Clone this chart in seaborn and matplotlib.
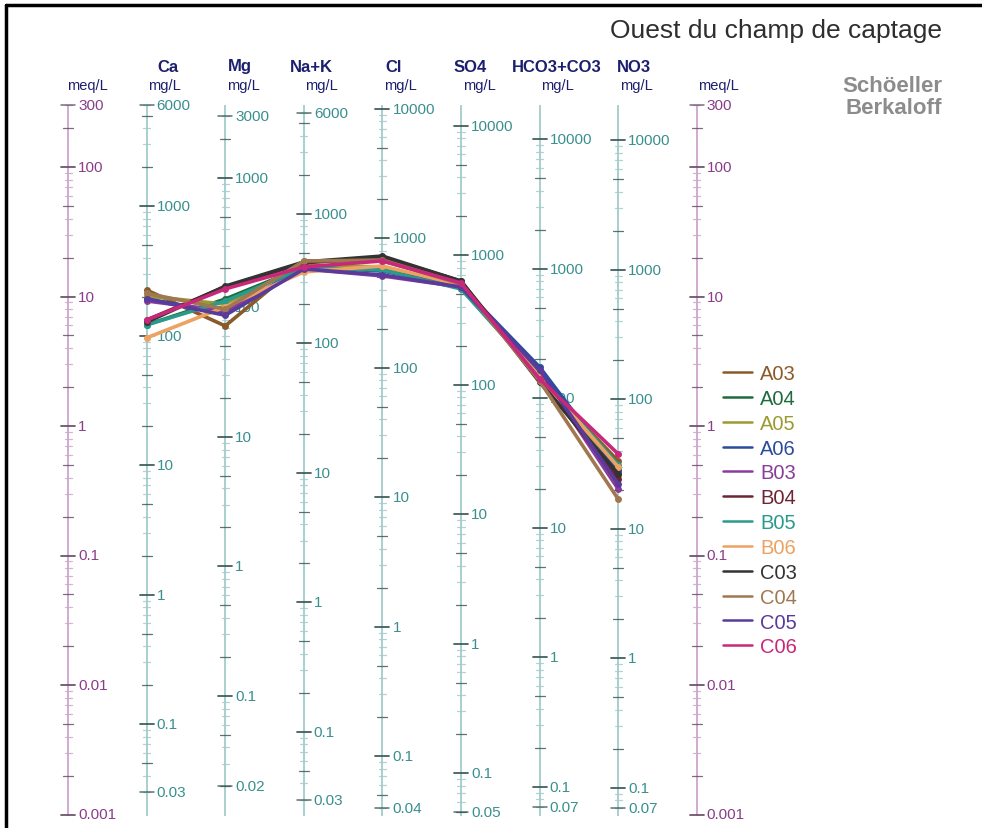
import numpy as np
import pandas as pd
import matplotlib
matplotlib.use("Agg")
import matplotlib.pyplot as plt
from matplotlib.lines import Line2D
import seaborn as sns

# ---- data -------------------------------------------------------------
ions = ["Ca", "Mg", "Na+K", "Cl", "SO4", "HCO3+CO3", "NO3"]
equiv_weight = [20.04, 12.15, 23.0, 35.45, 48.03, 61.02, 62.0]   # mg per meq
scale_top = [6000, 3000, 6000, 10000, 10000, 10000, 10000]       # mg/L
scale_bottom = [0.03, 0.02, 0.03, 0.04, 0.05, 0.07, 0.07]        # mg/L
meq_ticks = [300, 100, 10, 1, 0.1, 0.01, 0.001]

samples = ["A03", "A04", "A05", "A06", "B03", "B04",
           "B05", "B06", "C03", "C04", "C05", "C06"]
colors = ["#8B5A2B", "#1F6B3F", "#9A9A30", "#2A4C9C", "#8A3C9A", "#6E2434",
          "#2A9A8A", "#EBA262", "#333333", "#A07850", "#5A3A9A", "#C8287A"]

# concentrations, mg/L, in sample order
ca = [225, 121, 202, 192, 185, 132, 121, 96, 127, 212, 192, 132]
mg = [72, 116, 106, 91, 94, 144, 112, 101, 146, 97, 87, 139]
na_k = [432, 389, 403, 389, 375, 418, 382, 356, 425, 432, 375, 389]
cl = [667, 578, 599, 558, 511, 716, 568, 610, 728, 678, 520, 667]
so4 = [611, 558, 589, 579, 568, 632, 549, 589, 632, 600, 568, 611]
hco3 = [141, 146, 151, 174, 162, 141, 149, 146, 133, 136, 165, 141]
no3 = [33.3, 28.9, 26.0, 27.9, 20.2, 24.2, 31.0, 29.9, 26.4, 16.9, 22.1, 37.7]
conc = [ca, mg, na_k, cl, so4, hco3, no3]

rows = []
for i, (ion, w, vals) in enumerate(zip(ions, equiv_weight, conc)):
    for s, v in zip(samples, vals):
        rows.append({"sample": s, "ion": ion, "pos": i + 1, "mgL": v, "meq": v / w})
df = pd.DataFrame(rows)

# ---- figure / coordinate frame -----------------------------------------
sns.set_theme(style="white")
plt.rcParams["font.family"] = ["Liberation Sans", "DejaVu Sans"]

W, H = 982, 829
fig = plt.figure(figsize=(W / 100, H / 100), dpi=100)
ax = fig.add_axes([0, 0, 1, 1])
x0_px, step_px = 68, 78.6          # left meq axis and column spacing
one_px, dec_px = 427, 129.5        # row of 1 meq/L and height of a decade
XLIM = (-x0_px / step_px, (W - x0_px) / step_px)
YLIM = (10 ** ((one_px - H) / dec_px), 10 ** (one_px / dec_px))
PX = 1 / step_px
MEQ_MIN, MEQ_MAX = 0.001, 300


def fx(px):
    return px / W


def fy(py):
    return 1 - py / H


MEQ_LINE, MEQ_TICK, MEQ_LAB = "#CDA6CD", "#6B4F6B", "#8A3D8A"
MG_LINE, MG_TICK, MG_LAB = "#A3CCCC", "#3D5A5A", "#3A8F8F"


def draw_scale(xc, lo, hi, factor, line_c, tick_c, lab_c, labels):
    # axis line spans the whole meq range; ticks only the column's own range
    ax.plot([xc, xc], [MEQ_MIN * 0.97, max(MEQ_MAX, hi / factor)], color=line_c,
            lw=1.3, zorder=1, solid_capstyle="butt")
    for d in range(int(np.floor(np.log10(lo))) - 1, int(np.ceil(np.log10(hi))) + 1):
        for m in range(1, 10):
            v = m * 10.0 ** d
            if v < lo * 0.999 or v > hi * 1.001:
                continue
            if m == 1:
                half, c, lw = 7, tick_c, 1.1
            elif m in (2, 5):
                half, c, lw = 5, tick_c, 0.9
            else:
                half, c, lw = 3.5, line_c, 0.9
            ax.plot([xc - half * PX, xc + half * PX], [v / factor] * 2,
                    color=c, lw=lw, zorder=1, alpha=0.85)
    for v in labels:
        ax.plot([xc - 7 * PX, xc + 7 * PX], [v / factor] * 2, color=tick_c,
                lw=1.1, zorder=1, alpha=0.85)
        ax.text(xc + 10 * PX, v / factor, f"{v:g}", color=lab_c, fontsize=11,
                va="center", ha="left", zorder=2)


# meq/L scales on both sides
for xc in (0, len(ions) + 1):
    draw_scale(xc, MEQ_MIN, MEQ_MAX, 1.0, MEQ_LINE, MEQ_TICK, MEQ_LAB, meq_ticks)

# mg/L scales, one per ion
for i, (w, top, bot) in enumerate(zip(equiv_weight, scale_top, scale_bottom)):
    labs = [top] + [10.0 ** d for d in range(-2, 5)
                    if bot < 10.0 ** d < top] + [bot]
    draw_scale(i + 1, bot, top, w, MG_LINE, MG_TICK, MG_LAB, labs)

# ---- sample profiles ---------------------------------------------------
palette = dict(zip(samples, colors))
sns.lineplot(data=df, x="pos", y="meq", hue="sample", hue_order=samples,
             palette=palette, estimator=None, sort=False, marker="o",
             markersize=5, markeredgewidth=0, linewidth=2.6, legend=False,
             ax=ax, zorder=3)
ax.set_yscale("log")
ax.set_xlim(*XLIM)
ax.set_ylim(*YLIM)
ax.axis("off")

handles = [Line2D([], [], color=c, lw=1.8) for c in colors]
fig.legend(handles, samples, loc="upper left",
           bbox_to_anchor=(fx(705), fy(347)), frameon=False,
           fontsize=14.5, handlelength=1.45, handletextpad=0.4,
           labelspacing=0.29, labelcolor=colors)

# ---- header texts ------------------------------------------------------
NAVY = "#1C1F6E"
ion_x = [168, 240, 311, 394, 470, 557, 634]
for xp, name in zip(ion_x, ions):
    fig.text(fx(xp), fy(67), name, color=NAVY, fontsize=12, fontweight="bold",
             ha="center", va="center")
unit_x = [x0_px + (i + 1) * step_px + 18 for i in range(len(ions))]
for xp in unit_x:
    fig.text(fx(xp), fy(86), "mg/L", color=NAVY, fontsize=10.5,
             ha="center", va="center")
for xp in (x0_px + 19, x0_px + 8 * step_px + 22):
    fig.text(fx(xp), fy(86), "meq/L", color=NAVY, fontsize=10.5,
             ha="center", va="center")

fig.text(fx(942), fy(31), "Ouest du champ de captage", color="#2E2E2E",
         fontsize=19, ha="right", va="center")
fig.text(fx(942), fy(86), "Schöeller", color="#8C8C8C", fontsize=16,
         fontweight="bold", ha="right", va="center")
fig.text(fx(942), fy(108), "Berkaloff", color="#8C8C8C", fontsize=16,
         fontweight="bold", ha="right", va="center")

# frame lines at the top and left edges
fig.add_artist(Line2D([fx(6), 1], [fy(6), fy(6)], color="black", lw=2.5))
fig.add_artist(Line2D([fx(6), fx(6)], [fy(6), 0], color="black", lw=2.5))

fig.savefig("out.png", dpi=100, facecolor="white")
